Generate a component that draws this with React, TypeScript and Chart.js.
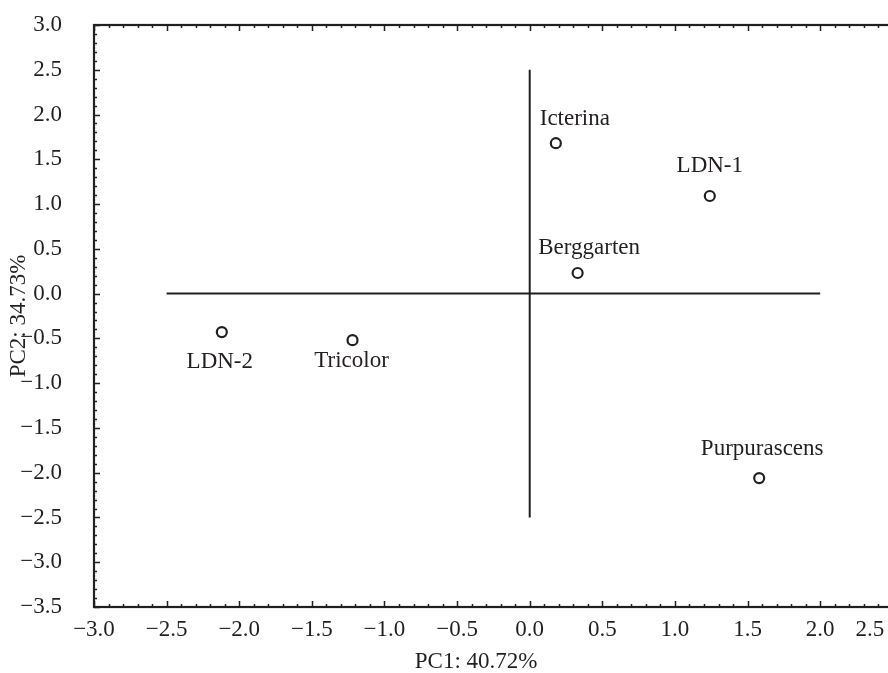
import React, { useEffect, useRef } from 'react';
import { Chart, registerables } from 'chart.js';

Chart.register(...registerables);

// ---- data ----
const varieties = ['Icterina', 'LDN-1', 'Berggarten', 'LDN-2', 'Tricolor', 'Purpurascens'];
const pc1 = [0.18, 1.24, 0.33, -2.12, -1.22, 1.58];
const pc2 = [1.68, 1.09, 0.23, -0.43, -0.52, -2.06];

// reference cross through the origin
const crossX = [-2.5, 2.0];
const crossY = [-2.5, 2.5];

// axis ranges
const xMin = -3.0;
const xMax = 2.5;
const yMin = -3.5;
const yMax = 3.0;
const majorStep = 0.5;

const xTitle = 'PC1: 40.72%';
const yTitle = 'PC2: 34.73%';

// label placement relative to each point (px) — style, not data
const labelOffsets: [number, number][] = [
  [19, -25.5],
  [0, -31.5],
  [11.5, -26.5],
  [-2, 28],
  [-1, 19],
  [3, -31],
];

const FONT_FAMILY = '"Liberation Serif", "Times New Roman", serif';
const INK = '#231f20';
const FONT_SIZE = 23;

function fmt(v: number): string {
  const s = Math.abs(v).toFixed(1);
  return (v < -1e-9 ? '\u2212' : '') + s;
}

const framePlugin = {
  id: 'frameTicks',
  afterDatasetsDraw(chart: any) {
    const { ctx, chartArea } = chart;
    const xs = chart.scales.x;
    const ys = chart.scales.y;
    ctx.save();
    ctx.strokeStyle = INK;
    ctx.lineWidth = 1.5;
    const nx = Math.round((xMax - xMin) / 0.1);
    ctx.beginPath();
    for (let i = 0; i <= nx; i++) {
      const v = xMin + i * 0.1;
      const px = Math.round(xs.getPixelForValue(v)) + 0.5;
      const len = i % 5 === 0 ? 6 : 3;
      ctx.moveTo(px, chartArea.bottom);
      ctx.lineTo(px, chartArea.bottom - len);
      ctx.moveTo(px, chartArea.top);
      ctx.lineTo(px, chartArea.top + len);
    }
    const ny = Math.round((yMax - yMin) / 0.1);
    for (let i = 0; i <= ny; i++) {
      const v = yMin + i * 0.1;
      const py = Math.round(ys.getPixelForValue(v)) + 0.5;
      const len = i % 5 === 0 ? 6 : 3;
      ctx.moveTo(chartArea.left, py);
      ctx.lineTo(chartArea.left + len, py);
    }
    ctx.stroke();
    ctx.lineWidth = 2.2;
    ctx.strokeRect(chartArea.left, chartArea.top, chartArea.right - chartArea.left, chartArea.bottom - chartArea.top);
    ctx.restore();
  },
};

const labelPlugin = {
  id: 'pointLabels',
  afterDatasetsDraw(chart: any) {
    const { ctx } = chart;
    const meta = chart.getDatasetMeta(0);
    ctx.save();
    ctx.fillStyle = INK;
    ctx.font = `${FONT_SIZE}px ${FONT_FAMILY}`;
    ctx.textAlign = 'center';
    ctx.textBaseline = 'alphabetic';
    meta.data.forEach((el: any, i: number) => {
      const [dx, dy] = labelOffsets[i];
      ctx.fillText(varieties[i], el.x + dx, el.y + dy + FONT_SIZE * 0.33);
    });
    ctx.restore();
  },
};

export default function App() {
  const ref = useRef<HTMLCanvasElement | null>(null);

  useEffect(() => {
    document.body.style.margin = '0';
    const canvas = ref.current;
    if (!canvas) return;
    const font = { family: FONT_FAMILY, size: FONT_SIZE };
    const chart = new Chart(canvas, {
      type: 'scatter',
      data: {
        datasets: [
          {
            data: pc1.map((x, i) => ({ x, y: pc2[i] })),
            pointRadius: 5,
            pointHoverRadius: 5,
            pointBorderWidth: 2.2,
            borderColor: INK,
            backgroundColor: '#ffffff',
            order: 0,
          },
          {
            data: crossX.map((x) => ({ x, y: 0 })),
            showLine: true,
            pointRadius: 0,
            borderWidth: 2,
            borderColor: INK,
            order: 1,
          },
          {
            data: crossY.map((y) => ({ x: 0, y })),
            showLine: true,
            pointRadius: 0,
            borderWidth: 2,
            borderColor: INK,
            order: 1,
          },
        ],
      },
      options: {
        responsive: false,
        maintainAspectRatio: false,
        animation: false,
        layout: { padding: { top: 0, right: 7, bottom: 0, left: 0 } },
        plugins: { legend: { display: false }, tooltip: { enabled: false } },
        scales: {
          x: {
            type: 'linear',
            min: xMin,
            max: xMax,
            grid: { display: false, drawTicks: false },
            border: { display: false },
            ticks: {
              stepSize: majorStep,
              color: INK,
              font,
              padding: 9,
              maxRotation: 0,
              autoSkip: false,
              callback: (value: any) => {
                const n = Number(value);
                let s = fmt(n);
                if (Math.abs(n - xMax) < 1e-6) s += '\u2003\u2003';
                return s;
              },
            },
            title: {
              display: true,
              text: xTitle + '\u2003\u2002',
              color: INK,
              font,
              padding: { top: 0, bottom: -3 },
            },
            afterFit: (scale: any) => {
              scale.height = 66;
              scale.paddingRight = 0;
              scale.paddingLeft = 0;
            },
          },
          y: {
            type: 'linear',
            min: yMin,
            max: yMax,
            grid: { display: false, drawTicks: false },
            border: { display: false },
            ticks: {
              stepSize: majorStep,
              color: INK,
              font,
              padding: 32,
              autoSkip: false,
              callback: (value: any) => fmt(Number(value)),
            },
            title: {
              display: true,
              text: yTitle,
              color: INK,
              font,
              padding: { top: 5, bottom: 0 },
            },
            afterFit: (scale: any) => {
              scale.width = 94;
              scale.paddingTop = 25;
              scale.paddingBottom = 0;
            },
          },
        },
      },
      plugins: [framePlugin, labelPlugin],
    } as any);
    return () => chart.destroy();
  }, []);

  return (
    <div style={{ width: 888, height: 673, overflow: 'hidden', position: 'relative' }}>
      <canvas ref={ref} width={900} height={673} style={{ display: 'block', width: 900, height: 673 }} />
    </div>
  );
}
